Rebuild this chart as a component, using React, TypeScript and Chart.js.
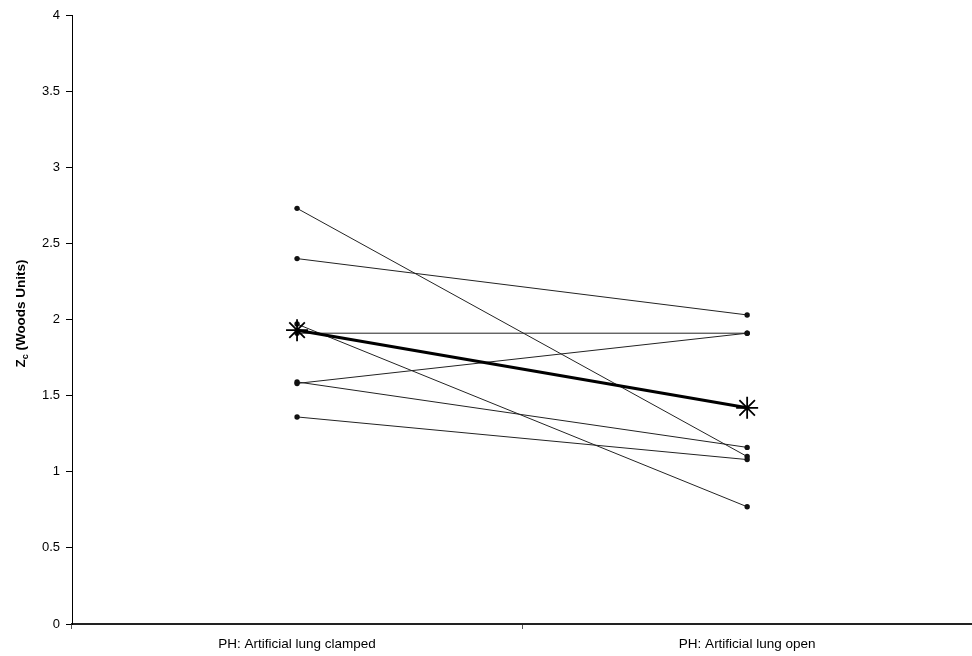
import React, { useEffect, useRef } from "react";
import { Chart, registerables } from "chart.js";

Chart.register(...registerables);

const categories = ["PH: Artificial lung clamped", "PH: Artificial lung open"];
const clampedValues = [2.73, 2.4, 1.97, 1.91, 1.58, 1.59, 1.36];
const openValues = [1.1, 2.03, 0.77, 1.91, 1.91, 1.16, 1.08];
const meanValues = [1.93, 1.42];
const yTicks = [0, 0.5, 1, 1.5, 2, 2.5, 3, 3.5, 4];

const FONT = "'Liberation Sans', Arial, Helvetica, sans-serif";

const yTitlePlugin = {
  id: "yTitle",
  afterDraw(chart: any) {
    const { ctx, chartArea } = chart;
    const cy = (chartArea.top + chartArea.bottom) / 2 - 6;
    ctx.save();
    ctx.translate(25, cy);
    ctx.rotate(-Math.PI / 2);
    ctx.fillStyle = "#000";
    ctx.textBaseline = "alphabetic";
    const big = `bold 13.5px ${FONT}`;
    const small = `bold 9px ${FONT}`;
    const z = "Z";
    const rest = " (Woods Units)";
    ctx.font = big;
    const wz = ctx.measureText(z).width;
    const wr = ctx.measureText(rest).width;
    ctx.font = small;
    const wc = ctx.measureText("c").width;
    const total = wz + wc + wr;
    let x = -total / 2;
    ctx.font = big;
    ctx.fillText(z, x, 0);
    x += wz;
    ctx.font = small;
    ctx.fillText("c", x, 3);
    x += wc;
    ctx.font = big;
    ctx.fillText(rest, x, 0);
    ctx.restore();
  },
};

export default function App() {
  const ref = useRef<HTMLCanvasElement | null>(null);

  useEffect(() => {
    if (!ref.current) return;
    const individual = clampedValues.map((v, i) => ({
      label: `Subject ${i + 1}`,
      data: [v, openValues[i]],
      borderColor: "#222",
      backgroundColor: "#111",
      borderWidth: 1,
      pointRadius: 2.7,
      pointBorderWidth: 0,
      pointStyle: "circle",
      order: 2,
    }));
    const chart = new Chart(ref.current, {
      type: "line",
      data: {
        labels: categories,
        datasets: [
          ...individual,
          {
            label: "Mean",
            data: meanValues,
            borderColor: "#000",
            backgroundColor: "#000",
            borderWidth: 3,
            pointStyle: "star",
            pointRadius: 11,
            pointBorderWidth: 1.8,
            pointBorderColor: "#000",
            order: 1,
          },
        ],
      },
      options: {
        animation: false,
        responsive: false,
        maintainAspectRatio: false,
        devicePixelRatio: 1,
        layout: { padding: { top: 15, right: 7, left: 0, bottom: 0 } },
        plugins: {
          legend: { display: false },
          tooltip: { enabled: false },
        },
        scales: {
          x: {
            type: "category",
            offset: true,
            afterFit(scale: any) {
              scale.height = 32;
            },
            grid: {
              display: true,
              offset: true,
              drawOnChartArea: false,
              drawTicks: true,
              tickLength: 5,
              color: "#555",
            },
            border: { display: true, color: "#222", width: 2 },
            ticks: {
              color: "#000",
              font: { family: FONT, size: 13.5 },
              padding: 7,
              maxRotation: 0,
            },
          },
          y: {
            min: 0,
            max: 4,
            afterFit(scale: any) {
              scale.width = 72;
            },
            afterBuildTicks(scale: any) {
              scale.ticks = yTicks.map((v) => ({ value: v }));
            },
            grid: {
              display: true,
              drawOnChartArea: false,
              drawTicks: true,
              tickLength: 6,
              color: "#000",
            },
            border: { display: true, color: "#000", width: 1 },
            ticks: {
              color: "#000",
              font: { family: FONT, size: 13 },
              padding: 6,
              callback: (v: any) => String(v),
            },
          },
        },
      },
      plugins: [yTitlePlugin],
    } as any);
    return () => chart.destroy();
  }, []);

  return (
    <div
      style={{
        position: "fixed",
        left: 0,
        top: 0,
        width: "972px",
        height: "656px",
        overflow: "hidden",
        background: "#fff",
      }}
    >
      <canvas
        ref={ref}
        width={985}
        height={656}
        style={{ width: "985px", height: "656px", display: "block" }}
      />
    </div>
  );
}
